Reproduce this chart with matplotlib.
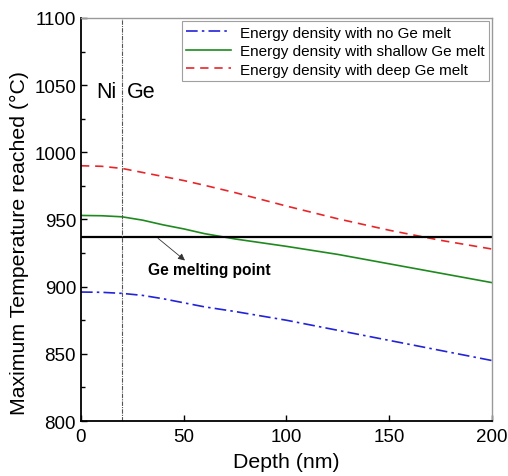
import matplotlib
matplotlib.use("Agg")
import matplotlib.pyplot as plt
from matplotlib.ticker import MultipleLocator

plt.rcParams["font.family"] = ["Liberation Sans", "DejaVu Sans"]

# dados
depth = [0, 10, 20, 30, 40, 50, 60, 75, 100, 125, 150, 175, 200]
no_melt = [896, 895.8, 895, 893.5, 891, 888, 885, 881.5, 875, 867.5, 860, 852.5, 845]
shallow_melt = [953, 952.8, 952, 949.5, 946, 943, 939.5, 935.5, 930, 924, 917, 910, 903]
deep_melt = [990, 989.6, 988, 985, 982, 979, 975.5, 970, 960, 950.5, 942, 934.5, 928]

ge_melting = 937
interface = 20

fig = plt.figure(figsize=(5.08, 4.77), dpi=100)
ax = fig.add_axes([0.1594, 0.1153, 0.8091, 0.8449])

ax.plot(depth, no_melt, color="#2323d8", linestyle=(0, (7, 2.5, 1.5, 2.5)), lw=1.2,
        label="Energy density with no Ge melt")
ax.plot(depth, shallow_melt, color="#1e8a1e", linestyle="-", lw=1.2,
        label="Energy density with shallow Ge melt")
ax.plot(depth, deep_melt, color="#e8262a", linestyle=(0, (5, 3.5)), lw=1.2,
        label="Energy density with deep Ge melt")

ax.axhline(ge_melting, color="black", lw=1.6)
ax.axvline(interface, color="#555555", lw=0.8, linestyle=(0, (4, 1, 1, 1)))

# seta e texto do ponto de fusão
ax.annotate("", xy=(50.6, 919.5), xytext=(37.5, 936),
            arrowprops=dict(arrowstyle="-|>", color="#333333", lw=0.6,
                            mutation_scale=10, shrinkA=0, shrinkB=0))
ax.text(32.5, 913, "Ge melting point", fontsize=11.2, fontweight="bold",
        va="center", ha="left")

ax.text(7.5, 1045, "Ni", fontsize=15.5, ha="left", va="center")
ax.text(22.5, 1045, "Ge", fontsize=15.5, ha="left", va="center")

ax.set_xlim(0, 200)
ax.set_ylim(800, 1100)
ax.xaxis.set_major_locator(MultipleLocator(50))
ax.yaxis.set_major_locator(MultipleLocator(50))
ax.yaxis.set_minor_locator(MultipleLocator(25))
ax.tick_params(direction="in", labelsize=13.5, length=4, width=1)
ax.tick_params(which="minor", direction="in", length=3, width=1)
ax.tick_params(axis="x", pad=5)

for s in ["left", "bottom"]:
    ax.spines[s].set_linewidth(1.3)
for s in ["top", "right"]:
    ax.spines[s].set_color("#999999")
    ax.spines[s].set_linewidth(1.0)

ax.set_xlabel("Depth (nm)", fontsize=15.3, labelpad=5)
ax.set_ylabel("Maximum Temperature reached (°C)", fontsize=15.3)
ax.yaxis.set_label_coords(-0.127, 0.445)

leg = ax.legend(loc="upper right", fontsize=11, frameon=True, fancybox=False,
                borderpad=0.3, labelspacing=0.3, handlelength=2.9,
                handletextpad=0.6, borderaxespad=0.2)
leg.get_frame().set_edgecolor("#888888")
leg.get_frame().set_linewidth(0.8)

fig.savefig("out.png", dpi=100)
